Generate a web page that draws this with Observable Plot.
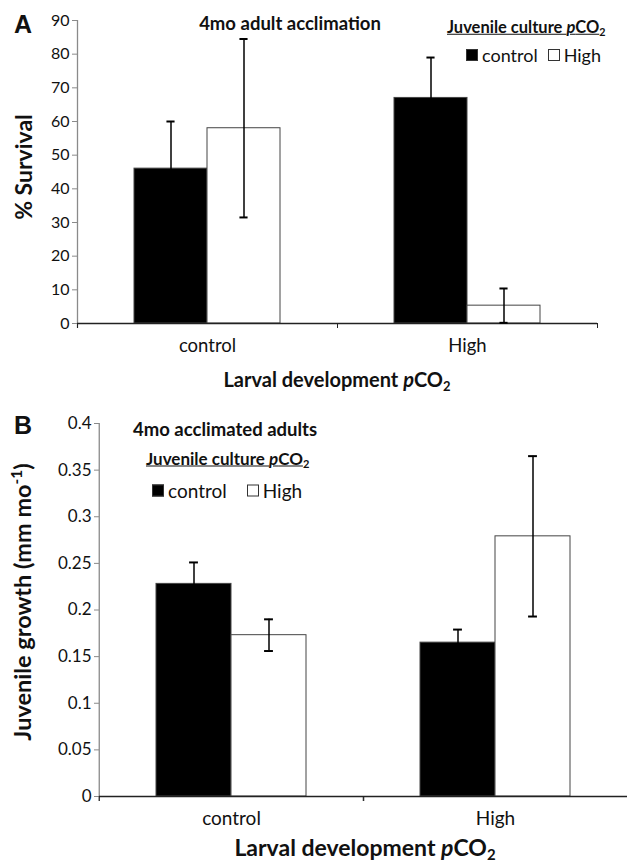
<!DOCTYPE html>
<html><head><meta charset="utf-8">
<script src="https://cdn.jsdelivr.net/npm/d3@7"></script>
<script src="https://cdn.jsdelivr.net/npm/@observablehq/plot@0.6"></script>
<style>
body{margin:0;background:#fff;}
#wrap{position:relative;width:627px;height:864px;font-family:Lato,sans-serif;color:#111;overflow:hidden;}
.abs{position:absolute;white-space:nowrap;line-height:1;}
.c{transform:translate(-50%,-50%);}
.l{transform:translate(0,-50%);}
.lbl{font-family:"Liberation Sans",Arial,sans-serif;font-weight:bold;font-size:25px;}
.ttl{font-weight:bold;}
.leg{font-weight:bold;text-decoration:underline;}
.item{display:flex;align-items:center;}
.sq{display:inline-block;width:12px;height:12px;box-sizing:border-box;border:1px solid #333;margin-right:4px;}
.ytl{font-weight:bold;transform:translate(-50%,-50%) rotate(-90deg);}
.xtl{font-weight:bold;}
sub{font-size:0.65em;vertical-align:-0.3em;line-height:0;}
sup{font-size:0.65em;vertical-align:0.6em;line-height:0;}
</style></head><body>
<div id="wrap">
  <div id="plotA" class="abs" style="left:0;top:0"></div>
  <div id="plotB" class="abs" style="left:0;top:385px"></div>

  <div class="abs lbl c" style="left:23px;top:24px">A</div>
  <div class="abs ttl c" style="left:290px;top:23px;font-size:18.5px">4mo adult acclimation</div>
  <div class="abs leg l" style="left:447px;top:27px;font-size:16.5px">Juvenile culture <i>p</i>CO<sub>2</sub></div>
  <div class="abs item l" style="left:466px;top:55px;font-size:18px"><span class="sq" style="background:#000"></span>control<span class="sq" style="background:#fff;margin-left:10px"></span>High</div>
  <div class="abs ytl" style="left:23px;top:167px;font-size:23px">% Survival</div>
  <div class="abs xtl c" style="left:337px;top:379px;font-size:20px">Larval development <i>p</i>CO<sub>2</sub></div>

  <div class="abs lbl c" style="left:23px;top:425px">B</div>
  <div class="abs ttl l" style="left:133px;top:429px;font-size:18.5px">4mo acclimated adults</div>
  <div class="abs leg l" style="left:146px;top:458px;font-size:17px">Juvenile culture <i>p</i>CO<sub>2</sub></div>
  <div class="abs item l" style="left:152px;top:490px;font-size:19px"><span class="sq" style="background:#000"></span>control<span class="sq" style="background:#fff;margin-left:20px"></span>High</div>
  <div class="abs ytl" style="left:23px;top:602px;font-size:23.5px">Juvenile growth (mm mo<sup>-1</sup>)</div>
  <div class="abs xtl c" style="left:365px;top:847px;font-size:23px">Larval development <i>p</i>CO<sub>2</sub></div>
</div>
<script>
const larval = ["control", "High"];
const juvenile = ["control", "High"];
const survivalMean = [46, 58, 67, 5.3];
const survivalErr = [14, 26.5, 12, 5.1];
const growthMean = [0.228, 0.173, 0.165, 0.279];
const growthErr = [0.023, 0.017, 0.014, 0.086];
const survivalTicks = [0, 10, 20, 30, 40, 50, 60, 70, 80, 90];
const growthTicks = [0, 0.05, 0.1, 0.15, 0.2, 0.25, 0.3, 0.35, 0.4];

function table(means, errs) {
  return larval.flatMap((l, i) => juvenile.map((j, k) => ({
    larval: l, juvenile: j, value: means[i * 2 + k], err: errs[i * 2 + k]
  })));
}

function panel({data, ticks, width, height, mL, mR, mT, mB, tickFont, catFont}) {
  const yDomain = [ticks[0], ticks[ticks.length - 1]];
  const groupW = (width - mL - mR) / 2;
  const padOuter = 0.76;
  const bw = groupW / (2 + 2 * padOuter);
  const capInset = (bw - 9) / 2;
  return Plot.plot({
    width, height, marginLeft: mL, marginRight: mR, marginTop: mT, marginBottom: mB,
    style: {fontFamily: "Lato, sans-serif", fontSize: tickFont + "px", color: "#111", background: "transparent", overflow: "visible"},
    fx: {domain: larval, padding: 0, label: null, axis: null},
    x: {domain: juvenile, paddingInner: 0, paddingOuter: padOuter, axis: null},
    y: {domain: yDomain, axis: null},
    color: {domain: juvenile, range: ["#000", "#fff"]},
    marks: [
      Plot.ruleX([larval[0]], {fx: d => d, x: null, y1: yDomain[1], y2: yDomain[0], insetBottom: -5, dx: -groupW / 2, stroke: "#8a8a8a", strokeWidth: 1.3}),
      Plot.axisY(ticks, {facetAnchor: "left", label: null, tickSize: 5, tickPadding: 3, stroke: "#8a8a8a", fill: "#111", fontSize: tickFont, tickFormat: d => String(d)}),
      Plot.barY(data, {fx: "larval", x: "juvenile", y: "value", fill: "juvenile", stroke: "#444", strokeWidth: 1}),
      Plot.ruleY([0], {stroke: "#222", strokeWidth: 1.3}),
      Plot.ruleX([0], {x: null, y1: 0, y2: 0, insetBottom: -5, dx: -groupW / 2, stroke: "#222"}),
      Plot.ruleX([0], {x: null, y1: 0, y2: 0, insetBottom: -5, dx: groupW / 2, stroke: "#222"}),
      Plot.ruleX(data, {fx: "larval", x: "juvenile", y1: d => d.value - d.err, y2: d => d.value + d.err, stroke: "#000", strokeWidth: 1.5}),
      Plot.tickY(data, {fx: "larval", x: "juvenile", y: d => d.value - d.err, insetLeft: capInset, insetRight: capInset, stroke: "#000", strokeWidth: 2}),
      Plot.tickY(data, {fx: "larval", x: "juvenile", y: d => d.value + d.err, insetLeft: capInset, insetRight: capInset, stroke: "#000", strokeWidth: 2}),
      Plot.axisFx({anchor: "bottom", tickSize: 0, tickPadding: 15, fontSize: catFont, label: null, fill: "#111"})
    ]
  });
}

document.getElementById("plotA").append(panel({
  data: table(survivalMean, survivalErr), ticks: survivalTicks,
  width: 627, height: 385, mL: 77, mR: 30, mT: 20, mB: 62, tickFont: 16, catFont: 18.5
}));
document.getElementById("plotB").append(panel({
  data: table(growthMean, growthErr), ticks: growthTicks,
  width: 627, height: 479, mL: 98, mR: 0, mT: 38, mB: 68, tickFont: 17, catFont: 19
}));
</script>
</body></html>
